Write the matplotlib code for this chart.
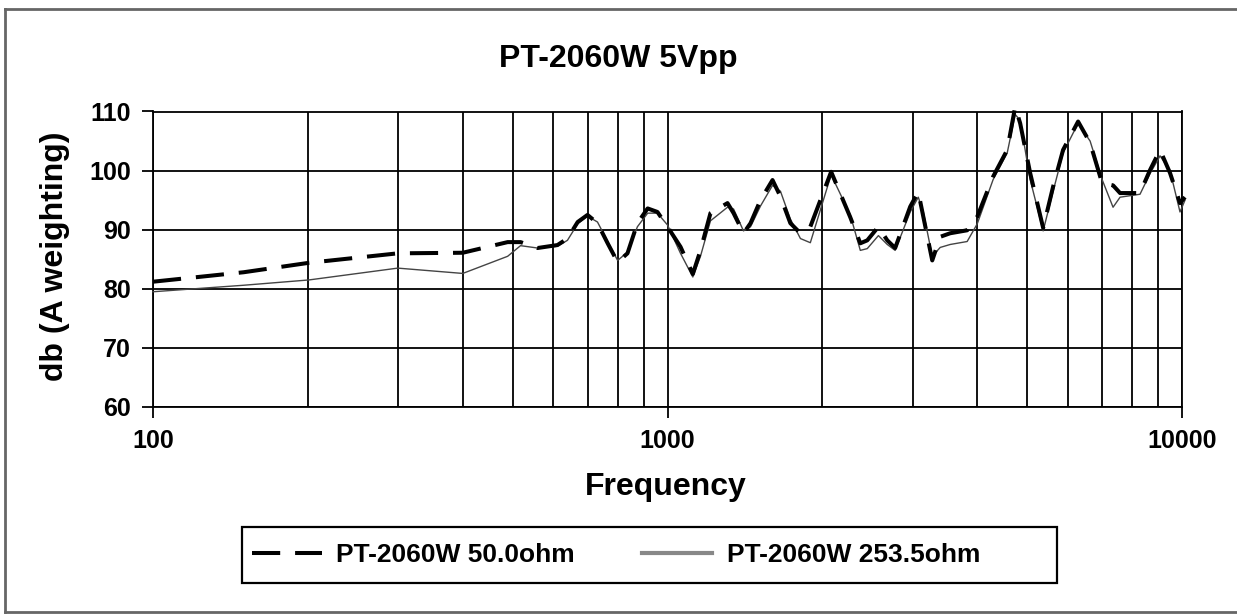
import numpy as np
import matplotlib
matplotlib.use("Agg")
import matplotlib.pyplot as plt
from matplotlib.ticker import LogLocator, FixedLocator, FixedFormatter, NullFormatter
from matplotlib.lines import Line2D
from matplotlib.patches import Rectangle

plt.rcParams["font.family"] = ["Liberation Sans", "DejaVu Sans"]
plt.rcParams["font.weight"] = "bold"

# -------------------------------
# Data
# -------------------------------
freq = [100, 150, 201, 299, 400, 489, 518, 559, 611, 639, 669, 699, 731, 765,
        800, 836, 874, 915, 956, 1000, 1060, 1120, 1159, 1212, 1308, 1344,
        1405, 1450, 1516, 1600, 1658, 1733, 1813, 1895, 2080, 2266, 2370,
        2445, 2570, 2674, 2770, 2963, 3072, 3142, 3270, 3389, 3544, 3823,
        4000, 4295, 4574, 4740, 4847, 5068, 5372, 5617, 5873, 6281, 6628,
        6993, 7345, 7579, 8287, 8667, 9064, 9478, 9911, 10135]

db_50ohm = [81.2, 82.8, 84.4, 86.0, 86.1, 87.9, 87.9, 86.9, 87.4, 88.5, 91.3,
            92.5, 91.1, 87.7, 84.5, 86.0, 91.1, 93.6, 93.0, 90.5, 87.1, 82.5,
            86.5, 92.8, 94.5, 92.8, 89.4, 91.1, 95.0, 98.4, 95.6, 91.1, 89.4,
            90.5, 99.8, 92.1, 87.7, 88.2, 90.5, 88.2, 86.9, 93.9, 96.4, 92.2,
            84.8, 88.8, 89.4, 89.9, 92.2, 99.0, 103.5, 110.8, 108.0, 99.6,
            90.3, 97.3, 103.5, 108.3, 104.7, 97.9, 97.5, 96.2, 96.2, 100.1,
            103.5, 99.6, 94.5, 95.5]

db_253ohm = [79.5, 80.6, 81.5, 83.5, 82.6, 85.5, 87.3, 86.9, 87.2, 88.2, 91.0,
             92.3, 91.3, 88.0, 84.8, 86.2, 90.5, 92.8, 92.8, 90.8, 86.0, 82.0,
             85.5, 91.5, 93.8, 93.5, 89.8, 90.5, 94.0, 97.5, 96.5, 91.8, 88.5,
             87.8, 99.3, 92.5, 86.5, 86.8, 89.0, 87.5, 86.5, 93.0, 95.5, 93.0,
             85.5, 87.0, 87.5, 88.0, 91.0, 98.5, 103.0, 109.5, 108.5, 98.5,
             89.8, 96.5, 103.0, 108.0, 105.0, 98.5, 93.8, 95.5, 96.0, 99.5,
             102.5, 100.0, 93.0, 95.0]

labels = ["PT-2060W 50.0ohm", "PT-2060W 253.5ohm"]
y_ticks = [60, 70, 80, 90, 100, 110]
x_ticks = [100, 1000, 10000]

W, H = 1237, 614
fig = plt.figure(figsize=(W / 100, H / 100), dpi=100)

# outer frame of the original picture
frame_kw = dict(color="#666666", linewidth=2.0, transform=fig.transFigure)
fig.add_artist(Line2D([5 / W, 5 / W], [1 - 9 / H, 1 - 612 / H], **frame_kw))
fig.add_artist(Line2D([5 / W, 1.0], [1 - 9 / H, 1 - 9 / H], **frame_kw))
fig.add_artist(Line2D([5 / W, 1.0], [1 - 612 / H, 1 - 612 / H], **frame_kw))

ax = fig.add_axes([153 / W, 1 - 407 / H, (1182 - 153) / W, (407 - 111.5) / H])
ax.set_xscale("log")
ax.set_xlim(100, 10000)
ax.set_ylim(60, 110)

ax.plot(freq, db_253ohm, color="#444444", linewidth=1.0, clip_on=False, zorder=3)
ax.plot(freq, db_50ohm, color="black", linewidth=2.9, dashes=(7, 3.7),
        clip_on=False, zorder=4)

# grid: decades + minor log lines, horizontal every 10 dB
ax.xaxis.set_major_locator(FixedLocator(x_ticks))
ax.xaxis.set_major_formatter(FixedFormatter([str(v) for v in x_ticks]))
ax.xaxis.set_minor_locator(LogLocator(base=10, subs=np.arange(2, 10)))
ax.xaxis.set_minor_formatter(NullFormatter())
ax.set_yticks(y_ticks)
ax.grid(True, which="both", axis="x", color="black", linewidth=1.3)
ax.grid(True, which="major", axis="y", color="black", linewidth=1.3)
ax.set_axisbelow(True)

for sp in ax.spines.values():
    sp.set_linewidth(1.3)
ax.tick_params(axis="both", which="major", direction="out", length=8, width=1.3,
               labelsize=18, pad=8)
ax.tick_params(axis="x", which="minor", length=0)

fig.text(618 / W, 1 - 67 / H, "PT-2060W 5Vpp", ha="center", va="baseline",
         fontsize=23, fontweight="bold")
fig.text(666 / W, 1 - 495 / H, "Frequency", ha="center", va="baseline",
         fontsize=23, fontweight="bold")
fig.text(55 / W, 1 - 256 / H, "db (A weighting)", ha="center", va="center",
         rotation=90, fontsize=23, fontweight="bold")

# legend box (drawn separately so its size matches the reference)
fig.add_artist(Rectangle((242 / W, 1 - 583 / H), (1057 - 242) / W, 56 / H,
                         transform=fig.transFigure, facecolor="white",
                         edgecolor="black", linewidth=1.6, zorder=5))
h1 = Line2D([], [], color="black", linewidth=2.9, dashes=(7, 3.7))
h2 = Line2D([], [], color="#888888", linewidth=3.0)
leg = fig.legend([h1, h2], labels, loc="center left", ncol=2,
                 bbox_to_anchor=(252 / W, 1 - 555 / H),
                 fontsize=19, frameon=False,
                 handlelength=2.65, handletextpad=0.55, columnspacing=2.55,
                 borderpad=0, borderaxespad=0)
leg.set_zorder(6)
for t in leg.get_texts():
    t.set_fontweight("bold")

fig.savefig("out.png", dpi=100)
